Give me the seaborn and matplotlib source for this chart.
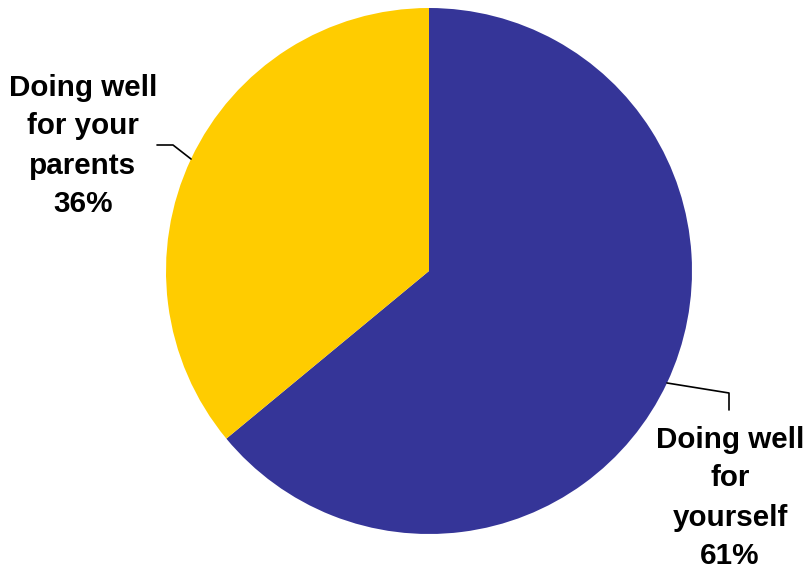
import numpy as np
import seaborn as sns
import matplotlib.pyplot as plt

# dados (fatias medidas no grafico; rotulos como impressos)
categorias = ["Doing well\nfor\nyourself", "Doing well\nfor your\nparents"]
valores = [64, 36]
percentuais = ["61%", "36%"]
cores = ["#353598", "#FFCC00"]

sns.set_style("white")
plt.rcParams["font.family"] = ["Liberation Sans", "DejaVu Sans"]

W, H = 807, 571
cx, cy, R = 429, 271, 263  # centro e raio da pizza em pixels

fig = plt.figure(figsize=(W / 100, H / 100), dpi=100)
ax = fig.add_axes([0, 0, 1, 1])
fatias, _ = ax.pie(valores, colors=cores, startangle=90, counterclock=False,
                   radius=1, wedgeprops=dict(linewidth=0))
ax.set_xlim(-cx / R, (W - cx) / R)
ax.set_ylim((cy - H) / R, cy / R)
ax.set_aspect("auto")
ax.axis("off")

def px(x, y):
    return (x - cx) / R, (cy - y) / R

# posicoes dos rotulos (pixels) e dobra da linha guia
rotulos = [(730, 498, (729, 393), (729, 410)),
           (83, 146, (173, 145), (157, 145))]

for f, nome, pct, (tx, ty, dobra, fim) in zip(fatias, categorias, percentuais, rotulos):
    ang = np.deg2rad((f.theta1 + f.theta2) / 2)
    x0, y0 = np.cos(ang), np.sin(ang)
    x1, y1 = px(*dobra)
    x2, y2 = px(*fim)
    ax.plot([x0, x1, x2], [y0, y1, y2], color="black", lw=1.2)
    lx, ly = px(tx, ty)
    ax.text(lx, ly, nome + "\n" + pct, ha="center", va="center", color="black",
            multialignment="center", fontsize=21.3, fontweight="bold",
            linespacing=1.5)

fig.savefig("out.png", dpi=100)
